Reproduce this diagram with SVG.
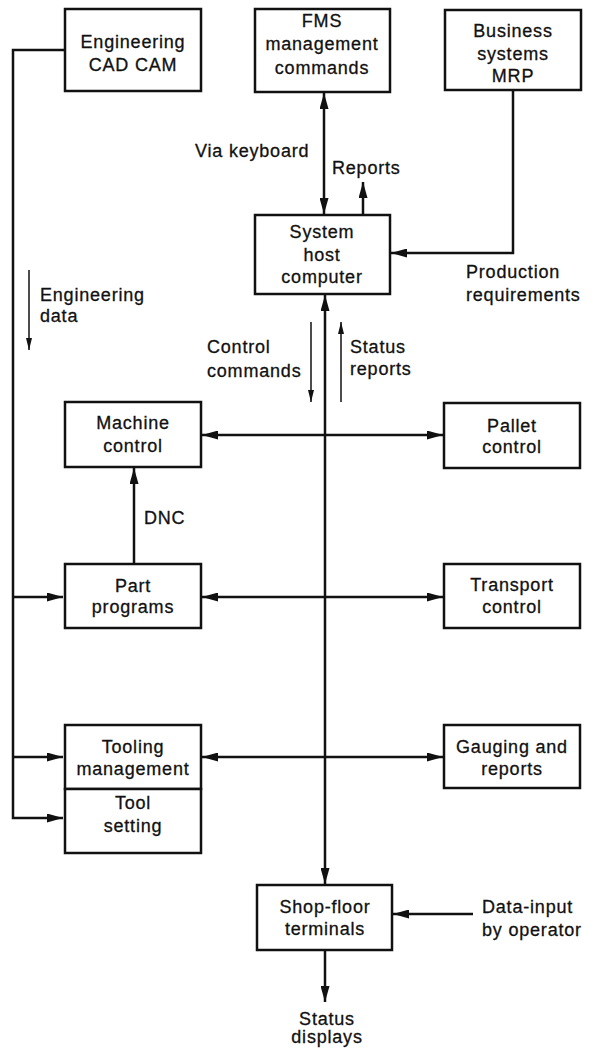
<svg xmlns="http://www.w3.org/2000/svg" width="598" height="1048" viewBox="0 0 598 1048">
  <style>
    .box { fill: #fff; stroke: #111; stroke-width: 2.5; }
    .t { font-family: "Liberation Sans", Arial, sans-serif; font-size: 18px; letter-spacing: 0.8px; fill: #111; stroke: #111; stroke-width: 0.3; }
    .c { text-anchor: middle; }
    .ln { fill: none; stroke: #111; stroke-width: 2.5; }
    .thin { fill: none; stroke: #111; stroke-width: 1.5; }
  </style>
  <defs>
    <marker id="ah" markerUnits="userSpaceOnUse" markerWidth="17" markerHeight="9" refX="16" refY="4.5" orient="auto-start-reverse">
      <path d="M0,0 L16,4.5 L0,9 z" fill="#111"/>
    </marker>
    <marker id="ahs" markerUnits="userSpaceOnUse" markerWidth="13" markerHeight="6" refX="12" refY="3" orient="auto">
      <path d="M0,0 L12,3 L0,6 z" fill="#111"/>
    </marker>
  </defs>
  <rect width="598" height="1048" fill="#fff"/>

  <!-- connectors -->
  <g id="connectors">
    <path class="ln" d="M65,50 H13 V818 H63" marker-end="url(#ah)"/>
    <path class="ln" d="M13,597 H63" marker-end="url(#ah)"/>
    <path class="ln" d="M13,757 H63" marker-end="url(#ah)"/>
    <path class="ln" d="M324,93 V214" marker-start="url(#ah)" marker-end="url(#ah)"/>
    <path class="ln" d="M363,214 V182" marker-end="url(#ah)"/>
    <path class="ln" d="M513,90 V253 H391" marker-end="url(#ah)"/>
    <path class="ln" d="M325,295 V884" marker-start="url(#ah)" marker-end="url(#ah)"/>
    <path class="ln" d="M202,435 H443" marker-start="url(#ah)" marker-end="url(#ah)"/>
    <path class="ln" d="M202,597 H443" marker-start="url(#ah)" marker-end="url(#ah)"/>
    <path class="ln" d="M202,757 H443" marker-start="url(#ah)" marker-end="url(#ah)"/>
    <path class="ln" d="M134,563 V468" marker-end="url(#ah)"/>
    <path class="ln" d="M473,914 H393" marker-end="url(#ah)"/>
    <path class="ln" d="M325,951 V1002" marker-end="url(#ah)"/>
    <path class="thin" d="M29,270 V350" marker-end="url(#ahs)"/>
    <path class="thin" d="M311,322 V402" marker-end="url(#ahs)"/>
    <path class="thin" d="M341,402 V322" marker-end="url(#ahs)"/>
  </g>

  <!-- connector labels -->
  <g id="labels" class="t">
    <text x="195" y="157">Via keyboard</text>
    <text x="332" y="174">Reports</text>
    <text x="466" y="278">Production</text>
    <text x="466" y="301">requirements</text>
    <text x="40" y="301">Engineering</text>
    <text x="40" y="322">data</text>
    <text x="207" y="353">Control</text>
    <text x="207" y="377">commands</text>
    <text x="350" y="353">Status</text>
    <text x="350" y="375">reports</text>
    <text x="144" y="524">DNC</text>
    <text x="482" y="913">Data-input</text>
    <text x="482" y="936">by operator</text>
    <text class="c" x="327" y="1025">Status</text>
    <text class="c" x="327" y="1043">displays</text>
  </g>

  <g id="cad">
    <rect class="box" x="65" y="9" width="136" height="82"/>
    <text class="t c" x="133" y="48">Engineering</text>
    <text class="t c" x="133" y="71">CAD CAM</text>
  </g>
  <g id="fms">
    <rect class="box" x="255" y="9" width="135" height="83"/>
    <text class="t c" x="322" y="27">FMS</text>
    <text class="t c" x="322" y="50">management</text>
    <text class="t c" x="322" y="74">commands</text>
  </g>
  <g id="business">
    <rect class="box" x="445" y="10" width="136" height="80"/>
    <text class="t c" x="513" y="37">Business</text>
    <text class="t c" x="513" y="60">systems</text>
    <text class="t c" x="513" y="82">MRP</text>
  </g>
  <g id="host">
    <rect class="box" x="255" y="215" width="135" height="79"/>
    <text class="t c" x="322" y="238">System</text>
    <text class="t c" x="322" y="261">host</text>
    <text class="t c" x="322" y="283">computer</text>
  </g>
  <g id="machine">
    <rect class="box" x="65" y="402" width="136" height="65"/>
    <text class="t c" x="133" y="429">Machine</text>
    <text class="t c" x="133" y="452">control</text>
  </g>
  <g id="pallet">
    <rect class="box" x="444" y="403" width="136" height="65"/>
    <text class="t c" x="512" y="432">Pallet</text>
    <text class="t c" x="512" y="453">control</text>
  </g>
  <g id="part">
    <rect class="box" x="65" y="564" width="136" height="64"/>
    <text class="t c" x="133" y="592">Part</text>
    <text class="t c" x="133" y="613">programs</text>
  </g>
  <g id="transport">
    <rect class="box" x="444" y="564" width="136" height="64"/>
    <text class="t c" x="512" y="591">Transport</text>
    <text class="t c" x="512" y="613">control</text>
  </g>
  <g id="tooling">
    <rect class="box" x="65" y="725" width="136" height="64"/>
    <text class="t c" x="133" y="753">Tooling</text>
    <text class="t c" x="133" y="775">management</text>
  </g>
  <g id="toolsetting">
    <rect class="box" x="65" y="789" width="136" height="64"/>
    <text class="t c" x="133" y="809">Tool</text>
    <text class="t c" x="133" y="832">setting</text>
  </g>
  <g id="gauging">
    <rect class="box" x="444" y="725" width="136" height="63"/>
    <text class="t c" x="512" y="753">Gauging and</text>
    <text class="t c" x="512" y="775">reports</text>
  </g>
  <g id="shopfloor">
    <rect class="box" x="257" y="885" width="135" height="65"/>
    <text class="t c" x="325" y="913">Shop-floor</text>
    <text class="t c" x="325" y="935">terminals</text>
  </g>
</svg>
